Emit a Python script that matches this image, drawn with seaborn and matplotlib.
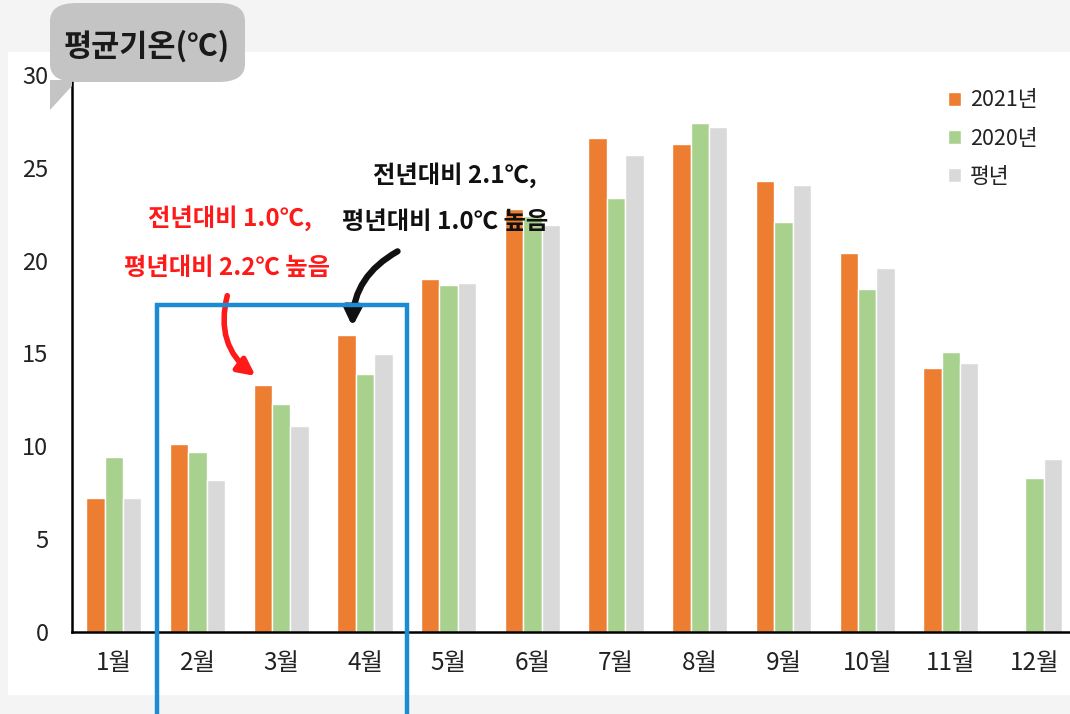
import numpy as np
import pandas as pd
import matplotlib.pyplot as plt
import seaborn as sns
from matplotlib.patches import FancyBboxPatch, Polygon, Rectangle

# data
months = ['1월', '2월', '3월', '4월', '5월', '6월', '7월', '8월', '9월', '10월', '11월', '12월']
temp_2021 = [7.2, 10.1, 13.3, 16.0, 19.0, 22.8, 26.6, 26.3, 24.3, 20.4, 14.2, np.nan]
temp_2020 = [9.4, 9.7, 12.3, 13.9, 18.7, 22.4, 23.4, 27.4, 22.1, 18.5, 15.1, 8.3]
temp_normal = [7.2, 8.2, 11.1, 15.0, 18.8, 21.9, 25.7, 27.2, 24.1, 19.6, 14.5, 9.3]
series_names = ['2021년', '2020년', '평년']
colors = ['#ed7d31', '#a9d18e', '#d9d9d9']
y_ticks = [0, 5, 10, 15, 20, 25, 30]

df = pd.DataFrame({
    'month': months * 3,
    'series': np.repeat(series_names, len(months)),
    'temp': temp_2021 + temp_2020 + temp_normal,
})

sns.set_style('white')
plt.rcParams['font.family'] = ['Noto Sans CJK KR', 'DejaVu Sans']

W, H = 1070, 714
fig = plt.figure(figsize=(W / 100, H / 100), dpi=100, facecolor='#f4f4f4')


def fx(px):
    return px / W


def fy(py):
    return 1 - py / H


# white panel behind the chart
fig.add_artist(Rectangle((fx(8), fy(695)), 1.0, fy(52) - fy(695),
                         transform=fig.transFigure, facecolor='white',
                         edgecolor='none', zorder=0))

ax = fig.add_axes([fx(72), fy(632), (12 * 83.7) / W, (632 - 75) / H])
ax.set_facecolor('none')

sns.barplot(data=df, x='month', y='temp', hue='series', palette=colors,
            width=0.66, saturation=1, ax=ax, errorbar=None)

ax.set_ylim(0, 30)
ax.set_xlim(-0.5, 11.5)
ax.set_yticks(y_ticks)
ax.set_xlabel('')
ax.set_ylabel('')
sns.despine(ax=ax)
for s in ['left', 'bottom']:
    ax.spines[s].set_color('black')
    ax.spines[s].set_linewidth(1.8)
ax.tick_params(axis='y', direction='in', length=7, width=1.5, labelsize=17,
               pad=17, colors='#222222')
ax.tick_params(axis='x', length=0, labelsize=17.5, pad=13, colors='#222222')

# legend
handles, labels = ax.get_legend_handles_labels()
ax.legend(handles, labels, loc='upper left', bbox_to_anchor=(fx(929), fy(70)),
          bbox_transform=fig.transFigure, frameon=False, fontsize=15.5,
          handlelength=0.6, handleheight=0.6, handletextpad=0.4,
          labelspacing=0.75, labelcolor='#222222')

# title bubble
fig.add_artist(FancyBboxPatch((fx(50), fy(82)), fx(245) - fx(50), fy(3) - fy(82),
                              boxstyle='round,pad=0,rounding_size=0.025',
                              transform=fig.transFigure, facecolor='#c4c4c4',
                              edgecolor='none', zorder=3))
fig.add_artist(Polygon([(fx(50), fy(80)), (fx(50), fy(110)), (fx(72), fy(86)), (fx(72), fy(80))],
                       closed=True, transform=fig.transFigure, facecolor='#c4c4c4',
                       edgecolor='none', zorder=3))
fig.text(fx(147), fy(46), '평균기온(℃)', ha='center', va='center', fontsize=22,
         fontweight='bold', color='#1a1a1a', zorder=4)

# highlight box for Feb-Apr
fig.add_artist(Rectangle((fx(157), fy(720)), fx(407) - fx(157), fy(305) - fy(720),
                         transform=fig.transFigure, facecolor='none',
                         edgecolor='#1b8bd3', linewidth=3.2, zorder=5))

# annotations
fig.text(fx(230), fy(218), '전년대비 1.0℃,', ha='center', va='center',
         fontsize=17.5, color='#ff1a1a', fontweight='bold')
fig.text(fx(227), fy(268), '평년대비 2.2℃ 높음', ha='center', va='center',
         fontsize=17.5, color='#ff1a1a', fontweight='bold')
fig.text(fx(455), fy(175), '전년대비 2.1℃,', ha='center', va='center',
         fontsize=17.5, color='#111111', fontweight='bold')
fig.text(fx(445), fy(222), '평년대비 1.0℃ 높음', ha='center', va='center',
         fontsize=17.5, color='#111111', fontweight='bold')

ax.annotate('', xy=(1.72, 13.7), xycoords='data',
            xytext=(fx(228), fy(293)), textcoords='figure fraction',
            arrowprops=dict(arrowstyle='-|>,head_length=1.0,head_width=0.5',
                            connectionstyle='arc3,rad=0.35', color='#ff1a1a',
                            lw=4), annotation_clip=False)
ax.annotate('', xy=(2.85, 16.3), xycoords='data',
            xytext=(fx(400), fy(250)), textcoords='figure fraction',
            arrowprops=dict(arrowstyle='-|>,head_length=1.0,head_width=0.5',
                            connectionstyle='arc3,rad=0.3', color='#111111',
                            lw=4.5), annotation_clip=False)

fig.savefig('out.png', dpi=100, facecolor=fig.get_facecolor())
